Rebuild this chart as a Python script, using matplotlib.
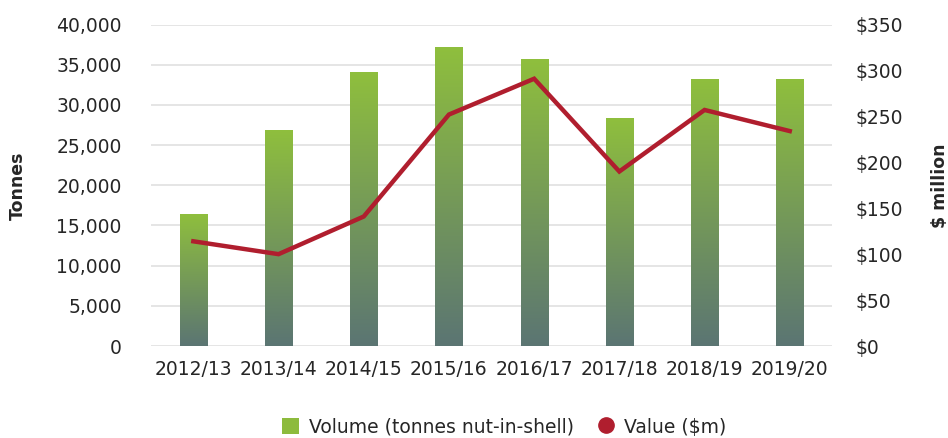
import matplotlib
matplotlib.use("Agg")
import matplotlib.pyplot as plt
import numpy as np
from matplotlib.colors import LinearSegmentedColormap
from matplotlib.lines import Line2D
from matplotlib.patches import Patch

years = ["2012/13", "2013/14", "2014/15", "2015/16", "2016/17", "2017/18", "2018/19", "2019/20"]
volume = [16450, 26900, 34150, 37250, 35650, 28400, 33250, 33250]
value = [114, 100, 141, 252, 291, 190, 257, 234]

left_ticks = [0, 5000, 10000, 15000, 20000, 25000, 30000, 35000, 40000]
right_ticks = [0, 50, 100, 150, 200, 250, 300, 350]

plt.rcParams['font.family'] = ['DejaVu Sans']
text_color = "#262626"
green_top = "#8fbf3d"
green_bot = "#5b7573"
red = "#b01e2e"
fs = 13.5

fig = plt.figure(figsize=(9.48, 4.38), dpi=100)
ax = fig.add_axes([0.159, 0.21, 0.719, 0.734])
ax2 = ax.twinx()

x = np.arange(len(years))
width = 0.32
cmap = LinearSegmentedColormap.from_list("g", [green_bot, green_top])
grad = np.linspace(0, 1, 256).reshape(-1, 1)
bars = ax.bar(x, volume, width=width, color="none", edgecolor="none", zorder=2)
for b in bars:
    x0, y0 = b.get_x(), b.get_y()
    w, h = b.get_width(), b.get_height()
    im = ax.imshow(grad, cmap=cmap, origin="lower", aspect="auto",
                   extent=[x0, x0 + w, y0, y0 + h], zorder=2)
    im.set_clip_path(b)

ax.set_xlim(-0.5, len(years) - 0.5)
ax.set_ylim(0, 40000)
ax.set_yticks(left_ticks)
ax.set_yticklabels([f"{v:,}" for v in left_ticks])
ax.set_xticks(x)
ax.set_xticklabels(years)
ax.grid(axis="y", color="#e3e3e3", linewidth=1.3, zorder=0)
ax.set_axisbelow(True)
for s in ax.spines.values():
    s.set_visible(False)
ax.tick_params(axis="both", length=0, labelsize=fs, colors=text_color)
ax.tick_params(axis="y", pad=21)
ax.tick_params(axis="x", pad=10)
ax.set_ylabel("Tonnes", fontsize=12.5, fontweight="bold", color=text_color, labelpad=21)

ax2.plot(x, value, color=red, linewidth=3.2, solid_joinstyle="miter", zorder=3)
ax2.set_ylim(0, 350)
ax2.set_yticks(right_ticks)
ax2.set_yticklabels([f"${v}" for v in right_ticks])
for s in ax2.spines.values():
    s.set_visible(False)
ax2.tick_params(axis="y", length=0, labelsize=fs, colors=text_color, pad=17)
ax2.set_ylabel("$ million", fontsize=12.5, fontweight="bold", color=text_color,
               rotation=90, labelpad=20)

handles = [Patch(facecolor="#8dbb3d", edgecolor="none"),
           Line2D([], [], marker="o", color=red, linestyle="none", markersize=11)]
fig.legend(handles, ["Volume (tonnes nut-in-shell)", "Value ($m)"], loc="center",
           bbox_to_anchor=(0.532, 0.025), ncol=2, frameon=False, fontsize=fs,
           handlelength=0.9, handleheight=0.9, handletextpad=0.5, columnspacing=1.3,
           labelcolor=text_color)

fig.savefig("out.png", dpi=100)
